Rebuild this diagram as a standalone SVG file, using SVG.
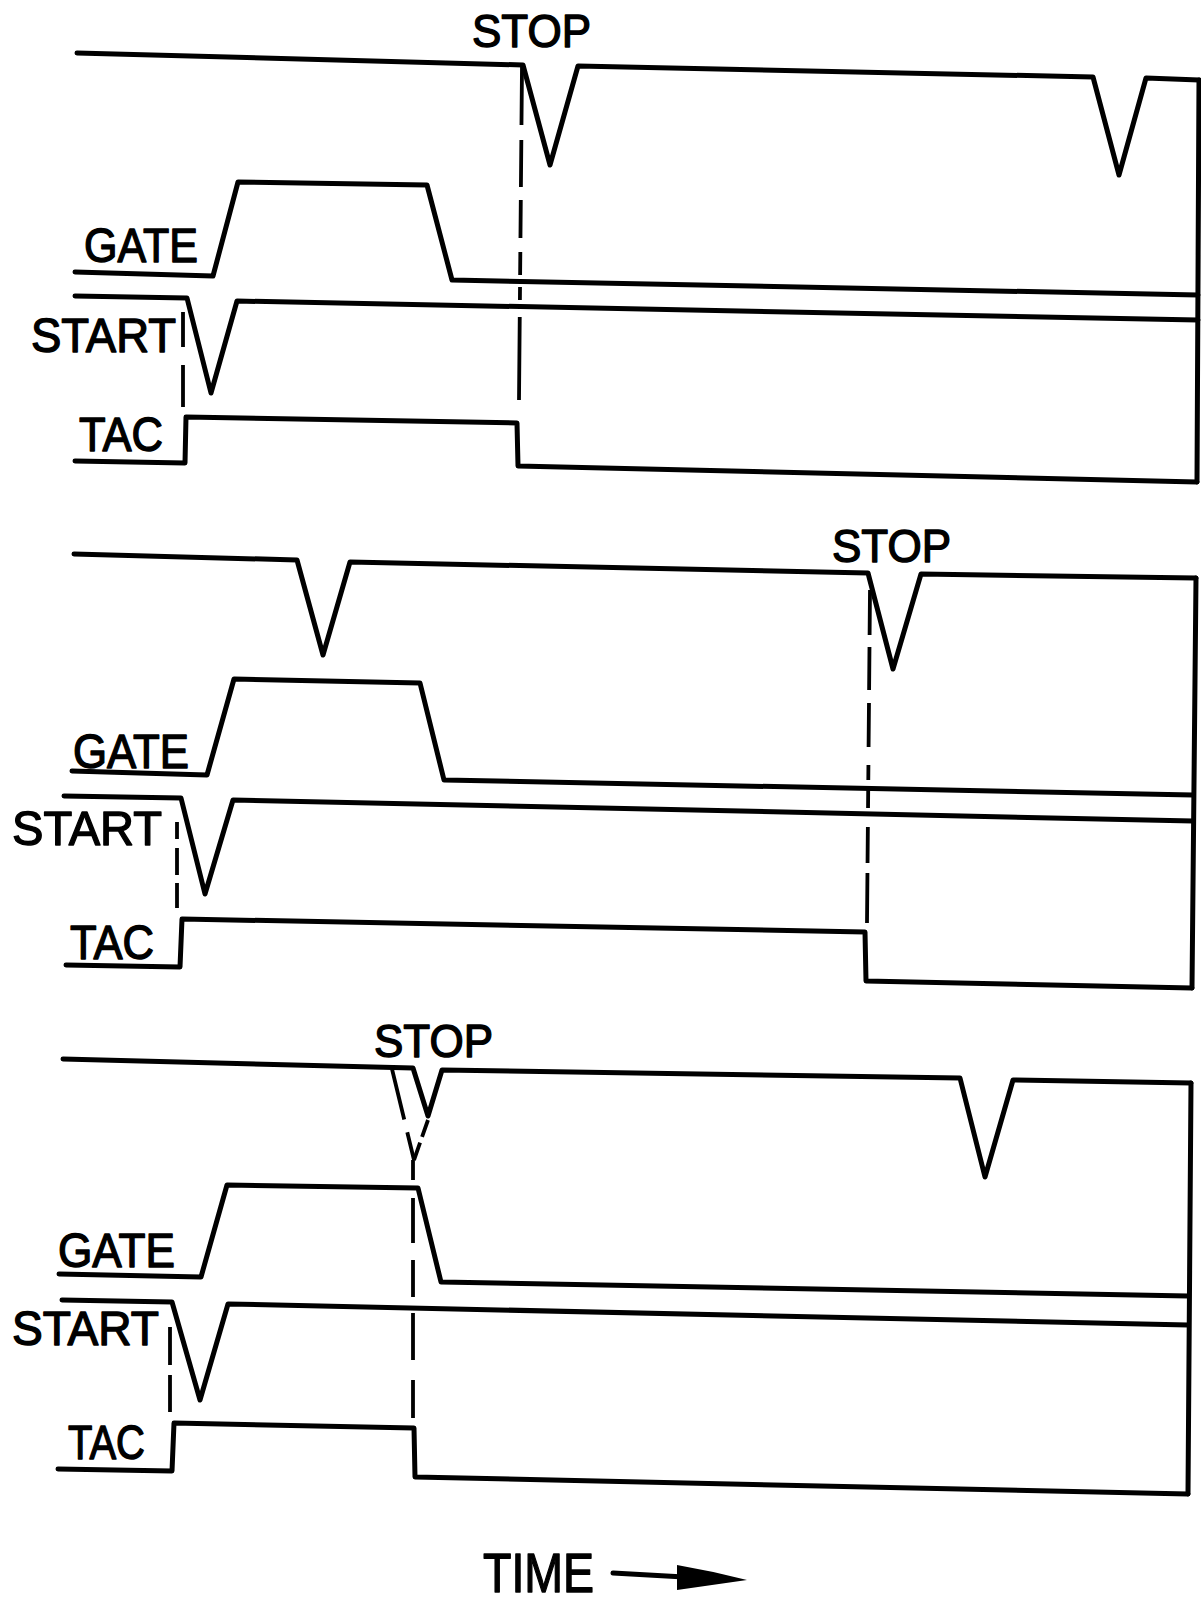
<svg xmlns="http://www.w3.org/2000/svg" width="1201" height="1601" viewBox="0 0 1201 1601">
  <style>
    .trace { fill: none; stroke: #000; stroke-width: 5; stroke-linejoin: round; stroke-linecap: round; }
    .dash { fill: none; stroke: #000; stroke-width: 3.8; stroke-linecap: butt; }
    .lbl { font-family: "Liberation Sans", Arial, sans-serif; font-size: 49px; fill: #000; stroke: #000; stroke-width: 1.4; stroke-linejoin: round; }
    .stop { font-size: 47px; }
    .time { font-size: 56px; }
  </style>
  <rect x="0" y="0" width="1201" height="1601" fill="#fff"/>

  <!-- Case 1: STOP arrives after the gate closes -->
  <g id="case1">
    <g id="case1-signals">
      <path class="trace" d="M77,53 L523,65 L550,165 L578,66 L1093,77 L1119,175 L1146,78 L1199,80"/>
      <path class="trace" d="M1199,80 L1197,482"/>
      <path class="trace" d="M75,272 L213,276 L238,182 L427,185 L452,280 L1198,295"/>
      <path class="trace" d="M75,296 L187,298 L211,393 L237,301 L1198,320"/>
      <path class="trace" d="M75,461 L185,463 L186,417 L517,423 L518,466 L1197,482"/>
    </g>
    <g id="case1-markers">
      <path class="dash" d="M183,312 L183,407" stroke-dasharray="35 18 42"/>
      <path class="dash" d="M522,67 L519,400" stroke-dasharray="58 15 47 13 38 14 23 12 13 17 83"/>
    </g>
    <g id="case1-labels">
      <text class="lbl stop" x="472" y="47" textLength="119" lengthAdjust="spacingAndGlyphs">STOP</text>
      <text class="lbl" x="84" y="262" textLength="114" lengthAdjust="spacingAndGlyphs">GATE</text>
      <text class="lbl" x="31" y="352" textLength="145" lengthAdjust="spacingAndGlyphs">START</text>
      <text class="lbl" x="79" y="451" textLength="84" lengthAdjust="spacingAndGlyphs">TAC</text>
    </g>
  </g>

  <!-- Case 2: STOP arrives late, TAC ramps until it -->
  <g id="case2">
    <g id="case2-signals">
      <path class="trace" d="M74,554 L297,560 L323,655 L350,562 L868,573 L893,669 L921,574 L1196,578"/>
      <path class="trace" d="M1196,578 L1192,988"/>
      <path class="trace" d="M72,771 L207,775 L234,679 L420,683 L444,780 L1193,795"/>
      <path class="trace" d="M64,796 L181,798 L205,894 L233,800 L1193,821"/>
      <path class="trace" d="M66,965 L180,967 L182,919 L865,932 L866,981 L1192,988"/>
    </g>
    <g id="case2-markers">
      <path class="dash" d="M177,822 L177,908" stroke-dasharray="17 9 27 8 25"/>
      <path class="dash" d="M870,590 L867,923" stroke-dasharray="45 12 43 13 44 18 15 10 18 19 36 10 50"/>
    </g>
    <g id="case2-labels">
      <text class="lbl stop" x="832" y="562" textLength="119" lengthAdjust="spacingAndGlyphs">STOP</text>
      <text class="lbl" x="73" y="768" textLength="116" lengthAdjust="spacingAndGlyphs">GATE</text>
      <text class="lbl" x="12" y="845" textLength="150" lengthAdjust="spacingAndGlyphs">START</text>
      <text class="lbl" x="70" y="959" textLength="84" lengthAdjust="spacingAndGlyphs">TAC</text>
    </g>
  </g>

  <!-- Case 3: STOP coincides with the gate closing edge -->
  <g id="case3">
    <g id="case3-signals">
      <path class="trace" d="M63,1059 L413,1068 L428,1116 L442,1070 L960,1078 L985,1177 L1013,1080 L1191,1083"/>
      <path class="trace" d="M1191,1083 L1188,1494"/>
      <path class="trace" d="M59,1274 L201,1277 L227,1185 L418,1188 L441,1282 L1188,1296"/>
      <path class="trace" d="M62,1300 L172,1302 L200,1400 L228,1304 L1188,1325"/>
      <path class="trace" d="M58,1469 L172,1471 L174,1423 L414,1428 L415,1477 L1188,1494"/>
    </g>
    <g id="case3-markers">
      <path class="dash" d="M170,1327 L170,1412" stroke-dasharray="38 10 37"/>
      <path class="dash" d="M392,1069 L414,1160" stroke-dasharray="52 13 30"/>
      <path class="dash" d="M428,1120 L414,1160" stroke-dasharray="18 6 20"/>
      <path class="dash" d="M413,1160 L413,1418" stroke-dasharray="20 18 45 17 37 16 47 20 38"/>
    </g>
    <g id="case3-labels">
      <text class="lbl stop" x="374" y="1057" textLength="119" lengthAdjust="spacingAndGlyphs">STOP</text>
      <text class="lbl" x="58" y="1267" textLength="117" lengthAdjust="spacingAndGlyphs">GATE</text>
      <text class="lbl" x="12" y="1345" textLength="147" lengthAdjust="spacingAndGlyphs">START</text>
      <text class="lbl" x="68" y="1459" textLength="77" lengthAdjust="spacingAndGlyphs">TAC</text>
    </g>
  </g>

  <!-- Time axis -->
  <g id="time-axis">
    <text class="lbl time" x="483" y="1592" textLength="111" lengthAdjust="spacingAndGlyphs">TIME</text>
    <path class="trace" d="M613,1573 L684,1577" stroke-width="5"/>
    <path d="M677,1565 Q712,1571 747,1580 Q712,1585 677,1590 Z" fill="#000"/>
  </g>
</svg>
